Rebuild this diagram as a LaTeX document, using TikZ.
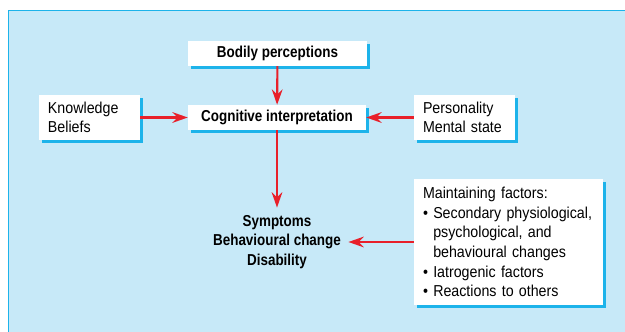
\documentclass[tikz,border=0pt]{standalone}
\usepackage{fontspec}
\setmainfont{Liberation Sans}[FakeStretch=0.9, BoldFeatures={FakeStretch=0.85}]
\usetikzlibrary{arrows.meta,shadows}
\definecolor{panelblue}{HTML}{C7E9F8}
\definecolor{edgecyan}{HTML}{1DB3EA}
\definecolor{arrowred}{HTML}{E8202A}

\begin{document}
\begin{tikzpicture}[
        font=\fontsize{13.5}{16.8}\selectfont,
        box/.style={fill=white, inner sep=0pt,
            general shadow={shadow xshift=0.09cm, shadow yshift=-0.09cm, fill=edgecyan}},
        listbox/.style={box, align=left, inner xsep=0.27cm},
        link/.style={draw=arrowred, line width=1.8pt,
            -{Stealth[length=0.46cm, width=0.32cm, inset=0.15cm]}}
    ]
        \useasboundingbox (0,0) rectangle (18.75,-9.96);
        \clip (0,0) rectangle (18.75,-9.96);
        \draw[fill=panelblue, draw=edgecyan, line width=1.3pt] (0.26,-0.31) rectangle (19.5,-10.5);

        \node[box, minimum width=5.37cm, minimum height=0.75cm, font=\fontsize{13.5}{16.8}\selectfont\bfseries] (bod) at (8.325,-1.605) {Bodily perceptions};
        \node[box, minimum width=5.34cm, minimum height=0.75cm, font=\fontsize{13.5}{16.8}\selectfont\bfseries] (cog) at (8.31,-3.525) {Cognitive interpretation};
        \node[listbox, text width=2.49cm, minimum height=1.35cm] (know) at (2.685,-3.525) {Knowledge\\Beliefs};
        \node[listbox, text width=2.49cm, minimum height=1.35cm] (pers) at (13.935,-3.525) {Personality\\Mental state};
        \node[align=center, inner sep=0.22cm, font=\fontsize{13.5}{16.8}\selectfont\bfseries] (symp) at (8.31,-7.26) {Symptoms\\Behavioural change\\Disability};
        \node[listbox, text width=5.13cm, minimum height=3.78cm] (maint) at (15.255,-7.26) {Maintaining factors:\\
            \textbullet\ Secondary physiological,\\
            \phantom{\textbullet\ }psychological, and\\
            \phantom{\textbullet\ }behavioural changes\\
            \textbullet\ Iatrogenic factors\\
            \textbullet\ Reactions to others};

        \draw[link] (bod) -- (cog);
        \draw[link] (know) -- (cog);
        \draw[link] (pers) -- (cog);
        \draw[link] (cog) -- (symp);
        \draw[link] (maint) -- (symp);
    \end{tikzpicture}
\end{document}
